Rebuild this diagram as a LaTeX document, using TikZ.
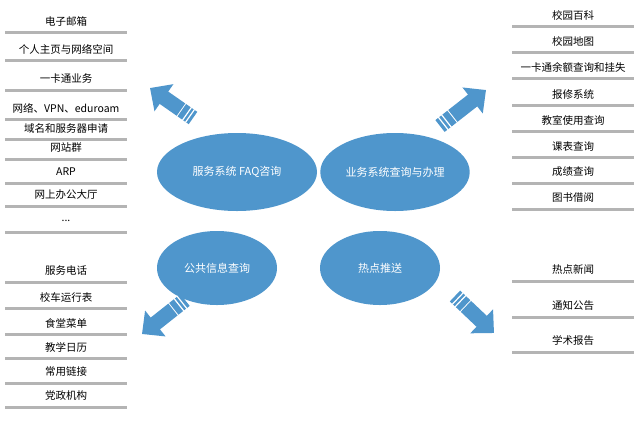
\documentclass[tikz,border=0pt]{standalone}
\usepackage{fontspec}
\setmainfont{Noto Sans CJK SC}
\usetikzlibrary{calc,arrows.meta,shapes.geometric}
\definecolor{bl}{HTML}{4F96CC}
\definecolor{gl}{HTML}{B4B4B4}
\tikzset{
 ell/.style={ellipse,fill=bl,text=white,font=\fontsize{11}{12}\selectfont},
 item/.style={font=\fontsize{10.5}{11}\selectfont,inner sep=0pt},
 uline/.style={gl,line width=3pt},
 arr/.style={bl,line width=15pt,-{Triangle[length=17pt,width=32pt]}}
}
\newcommand{\itm}[4]{\node[item] (#4) at (#1,#2) {#3};
 \coordinate (#4l) at (#1-61,#2+11); \coordinate (#4r) at (#1+61,#2+11);
 \draw[uline] (#4l) -- (#4r);}
\newcommand{\barrow}[3]{\coordinate (#3t) at #1; \coordinate (#3h) at #2;
 \draw[arr] ($(#3t)!0.28!(#3h)$) -- (#3h);
 \draw[bl,line width=15pt] (#3t) -- ($(#3t)!0.26!(#3h)$);
 \foreach \p in {0.07,0.14}{
  \draw[white,line width=1.2pt] ($(#3t)!\p!(#3h)!8pt!90:(#3h)$) -- ($(#3t)!\p!(#3h)!8pt!-90:(#3h)$);}}
\begin{document}
\begin{tikzpicture}[x=1pt,y=-1pt]
\useasboundingbox[fill=white] (0,0) rectangle (639,421);
\node[ell,minimum width=160,minimum height=78] (e1) at (237,172) {服务系统 FAQ咨询};
\node[ell,minimum width=140,minimum height=78] (e2) at (395,172) {业务系统查询与办理};
\node[ell,minimum width=120,minimum height=74] (e3) at (217,268) {公共信息查询};
\node[ell,minimum width=120,minimum height=74] (e4) at (380,268) {热点推送};
\itm{66}{21}{电子邮箱}{a1}
\itm{66}{49}{个人主页与网络空间}{a2}
\itm{66}{79}{一卡通业务}{a3}
\itm{66}{108}{网络、VPN、eduroam}{a4}
\itm{66}{128}{域名和服务器申请}{a5}
\itm{66}{148}{网站群}{a6}
\itm{66}{172}{ARP}{a7}
\itm{66}{195}{网上办公大厅}{a8}
\itm{66}{221}{...}{a9}
\itm{66}{271}{服务电话}{b1}
\itm{66}{297}{校车运行表}{b2}
\itm{66}{323}{食堂菜单}{b3}
\itm{66}{347}{教学日历}{b4}
\itm{66}{372}{常用链接}{b5}
\itm{66}{396}{党政机构}{b6}
\itm{573}{15}{校园百科}{c1}
\itm{573}{41}{校园地图}{c2}
\itm{573}{67}{一卡通余额查询和挂失}{c3}
\itm{573}{94}{报修系统}{c4}
\itm{573}{120}{教室使用查询}{c5}
\itm{573}{146}{课表查询}{c6}
\itm{573}{172}{成绩查询}{c7}
\itm{573}{198}{图书借阅}{c8}
\itm{573}{270}{热点新闻}{d1}
\itm{573}{306}{通知公告}{d2}
\itm{573}{341}{学术报告}{d3}
\barrow{(193,118)}{(150,88)}{p}
\barrow{(440,126)}{(486,90)}{q}
\barrow{(185,300)}{(142,334)}{r}
\barrow{(455,296)}{(494,333)}{s}
\end{tikzpicture}
\end{document}
